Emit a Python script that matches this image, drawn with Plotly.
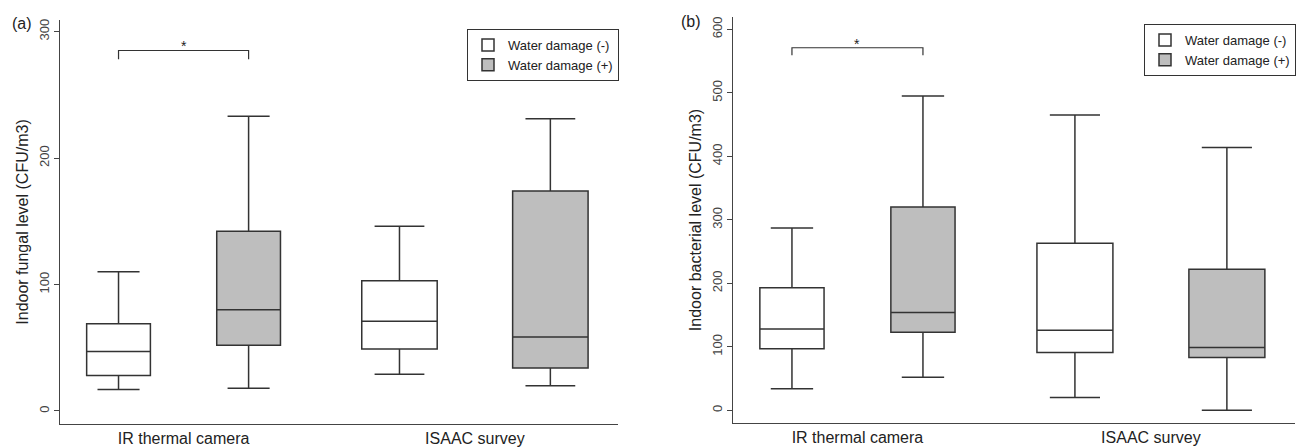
import plotly.graph_objects as go

# ---------------- data ----------------
groups = ["IR thermal camera", "ISAAC survey"]
series = ["Water damage (-)", "Water damage (+)"]
# box order: IR(-), IR(+), ISAAC(-), ISAAC(+)
box_series = [0, 1, 0, 1]

fungal_lower = [17, 18, 29, 20]
fungal_q1 = [28, 52, 49, 34]
fungal_median = [47, 80, 71, 58.5]
fungal_q3 = [69, 142, 103, 174]
fungal_upper = [110, 233, 146, 231]

bacterial_lower = [34, 52, 20, 0]
bacterial_q1 = [97, 123, 91, 83]
bacterial_median = [128, 154, 126, 99]
bacterial_q3 = [193, 320, 263, 222]
bacterial_upper = [287, 495, 465, 414]

fungal_ticks = [0, 100, 200, 300]
bacterial_ticks = [0, 100, 200, 300, 400, 500, 600]

# ---------------- layout constants ----------------
box_positions = [1, 2, 3.16, 4.32]
box_widths = [0.49, 0.49, 0.58, 0.58]
group_centers = [1.5, 3.74]
x_range = [0.55, 4.84]
fills = ["#ffffff", "#bebebe"]
LINE = "#333333"
AXIS = "#444444"
FONT = "Liberation Sans, Arial, sans-serif"

fig = go.Figure()

panels = [
    dict(xa="x", ya="y", leg="legend",
         stats=(fungal_lower, fungal_q1, fungal_median, fungal_q3, fungal_upper)),
    dict(xa="x2", ya="y2", leg="legend2",
         stats=(bacterial_lower, bacterial_q1, bacterial_median, bacterial_q3, bacterial_upper)),
]

for p in panels:
    lo, q1, med, q3, hi = p["stats"]
    for i in range(4):
        s = box_series[i]
        fig.add_trace(go.Box(
            x=[box_positions[i]],
            q1=[q1[i]], median=[med[i]], q3=[q3[i]],
            lowerfence=[lo[i]], upperfence=[hi[i]],
            width=box_widths[i], whiskerwidth=0.66,
            fillcolor=fills[s],
            line=dict(color=LINE, width=1.5),
            name=series[s], legendgroup=p["leg"] + str(s),
            showlegend=(i < 2), legend=p["leg"],
            boxpoints=False,
            xaxis=p["xa"], yaxis=p["ya"],
        ))

W, H = 1304, 447

def xdom(a, b):
    return [a / W, b / W]

def ydom(top, bottom):
    return [1 - bottom / H, 1 - top / H]

common_x = dict(range=x_range, showline=True, linecolor=AXIS, linewidth=1,
                showgrid=False, zeroline=False, ticks="",
                tickvals=group_centers, ticktext=groups,
                tickfont=dict(size=16, color="#222222", family=FONT))
common_y = dict(showline=True, linecolor=AXIS, linewidth=1, showgrid=False,
                zeroline=False, ticks="outside", ticklen=5, tickcolor=AXIS,
                tickangle=-90, tickfont=dict(size=13, color="#444444", family=FONT))

fig.update_layout(
    width=W, height=H,
    margin=dict(l=0, r=0, t=0, b=0),
    paper_bgcolor="white", plot_bgcolor="white",
    boxmode="overlay",
    font=dict(family=FONT, color="#222222"),
    xaxis=dict(domain=xdom(60, 618), anchor="y", **common_x),
    yaxis=dict(domain=ydom(20, 424), anchor="x", range=[-10.3, 309.1],
               tickvals=fungal_ticks,
               title=dict(text="Indoor fungal level (CFU/m3)", standoff=4,
                          font=dict(size=16, color="#222222")),
               **common_y),
    xaxis2=dict(domain=xdom(733, 1295), anchor="y2", **common_x),
    yaxis2=dict(domain=ydom(17, 423), anchor="x2", range=[-20, 619.4],
                tickvals=bacterial_ticks,
                title=dict(text="Indoor bacterial level (CFU/m3)", standoff=4,
                           font=dict(size=16, color="#222222")),
                **common_y),
    legend=dict(x=467 / W, y=1 - 29 / H, xanchor="left", yanchor="top",
                bgcolor="white", bordercolor="#333333", borderwidth=1,
                font=dict(size=13, color="#222222"), traceorder="normal"),
    legend2=dict(x=1144 / W, y=1 - 24 / H, xanchor="left", yanchor="top",
                 bgcolor="white", bordercolor="#333333", borderwidth=1,
                 font=dict(size=13, color="#222222"), traceorder="normal"),
)

# significance brackets
brackets = [("x", "y", 278, 285), ("x2", "y2", 559, 571)]
for xr, yr, leg_y, top_y in brackets:
    fig.add_shape(type="path", xref=xr, yref=yr,
                  path=f"M 1,{leg_y} L 1,{top_y} L 2,{top_y} L 2,{leg_y}",
                  line=dict(color=LINE, width=1.2))
    fig.add_annotation(x=1.5, y=top_y, xref=xr, yref=yr, text="*",
                       showarrow=False, yanchor="middle", yshift=4,
                       font=dict(size=14, color="#222222"))

# panel labels
fig.add_annotation(x=10 / W, y=1 - 23 / H, xref="paper", yref="paper", text="(a)",
                   showarrow=False, xanchor="left", yanchor="middle",
                   font=dict(size=16, color="#222222"))
fig.add_annotation(x=679 / W, y=1 - 22 / H, xref="paper", yref="paper", text="(b)",
                   showarrow=False, xanchor="left", yanchor="middle",
                   font=dict(size=16, color="#222222"))

fig.write_html("out.html", config={"displayModeBar": False},
               post_script="document.body.style.margin='0';document.body.style.overflow='hidden';")
